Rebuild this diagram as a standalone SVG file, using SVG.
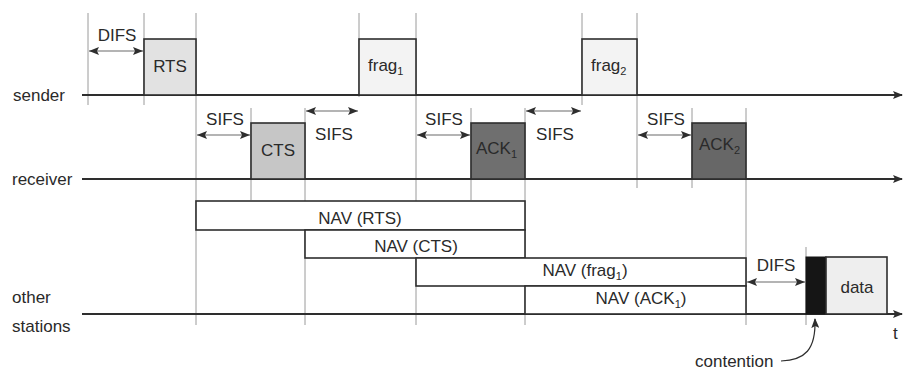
<svg xmlns="http://www.w3.org/2000/svg" width="904" height="373" viewBox="0 0 904 373">
<style>
text{font-family:"Liberation Sans",Arial,sans-serif;font-size:17px;fill:#2a2a2a}
.m{text-anchor:middle}
.sub{font-size:11px}
.axis{stroke:#2e2e2e;stroke-width:2;fill:none}
.grid{stroke:#9a9a9a;stroke-width:1;fill:none}
.dim{stroke:#6a6a6a;stroke-width:1.2;fill:none;marker-start:url(#ah);marker-end:url(#ah)}
.box{stroke:#2e2e2e;stroke-width:1.6}
.nav{fill:#fff;stroke:#2e2e2e;stroke-width:1.6}
</style>
<defs>
<marker id="ah" viewBox="0 0 10 8" refX="10" refY="4" markerWidth="10" markerHeight="8" markerUnits="userSpaceOnUse" orient="auto-start-reverse">
<path d="M0,0 L10,4 L0,8 L2,4 Z" fill="#2e2e2e"/>
</marker>
<marker id="ax" viewBox="0 0 10 8" refX="9" refY="4" markerWidth="10" markerHeight="8" markerUnits="userSpaceOnUse" orient="auto">
<path d="M0,0 L10,4 L0,8 L2,4 Z" fill="#2e2e2e"/>
</marker>
</defs>
<rect width="904" height="373" fill="#fff"/>

<g id="grid">
<line class="grid" x1="88" y1="13" x2="88" y2="105"/>
<line class="grid" x1="144" y1="13" x2="144" y2="105"/>
<line class="grid" x1="196" y1="13" x2="196" y2="325"/>
<line class="grid" x1="251" y1="108" x2="251" y2="200"/>
<line class="grid" x1="305" y1="108" x2="305" y2="325"/>
<line class="grid" x1="359" y1="13" x2="359" y2="97"/>
<line class="grid" x1="416" y1="13" x2="416" y2="325"/>
<line class="grid" x1="471" y1="108" x2="471" y2="200"/>
<line class="grid" x1="525" y1="108" x2="525" y2="325"/>
<line class="grid" x1="582" y1="13" x2="582" y2="105"/>
<line class="grid" x1="637" y1="13" x2="637" y2="188"/>
<line class="grid" x1="692" y1="108" x2="692" y2="188"/>
<line class="grid" x1="746" y1="108" x2="746" y2="325"/>
<line class="grid" x1="806" y1="247" x2="806" y2="325"/>
</g>

<g id="axes">
<line class="axis" x1="82" y1="95" x2="902" y2="95" marker-end="url(#ax)"/>
<line class="axis" x1="82" y1="179" x2="902" y2="179" marker-end="url(#ax)"/>
<line class="axis" x1="82" y1="314" x2="902" y2="314" marker-end="url(#ax)"/>
<text x="13" y="101">sender</text>
<text x="12" y="185">receiver</text>
<text x="12" y="303">other</text>
<text x="12" y="332">stations</text>
<text x="893" y="339">t</text>
</g>

<g id="rts"><rect class="box" x="144" y="39" width="52" height="56" fill="#e2e2e2"/><text class="m" x="170" y="72">RTS</text></g>
<g id="cts"><rect class="box" x="251" y="123" width="54" height="56" fill="#c6c6c6"/><text class="m" x="278" y="156">CTS</text></g>
<g id="frag1"><rect class="box" x="359" y="39" width="57" height="56" fill="#f3f3f3"/><text x="368" y="71">frag<tspan class="sub" dy="4">1</tspan></text></g>
<g id="ack1"><rect class="box" x="471" y="123" width="54" height="56" fill="#6f6f6f"/><text x="476" y="154">ACK<tspan class="sub" dy="4">1</tspan></text></g>
<g id="frag2"><rect class="box" x="582" y="39" width="55" height="56" fill="#f3f3f3"/><text x="591" y="71">frag<tspan class="sub" dy="4">2</tspan></text></g>
<g id="ack2"><rect class="box" x="692" y="123" width="54" height="56" fill="#676767"/><text x="699" y="150">ACK<tspan class="sub" dy="4">2</tspan></text></g>

<g id="nav-rts"><rect class="nav" x="196" y="201" width="329" height="29"/><text class="m" x="360" y="224">NAV (RTS)</text></g>
<g id="nav-cts"><rect class="nav" x="305" y="230" width="220" height="28"/><text class="m" x="416" y="252">NAV (CTS)</text></g>
<g id="nav-frag1"><rect class="nav" x="416" y="258" width="330" height="28"/><text class="m" x="585" y="276">NAV (frag<tspan class="sub" dy="4">1</tspan><tspan dy="-4">)</tspan></text></g>
<g id="nav-ack1"><rect class="nav" x="525" y="286" width="221" height="28"/><text class="m" x="641" y="304">NAV (ACK<tspan class="sub" dy="4">1</tspan><tspan dy="-4">)</tspan></text></g>

<g id="contention"><rect x="806" y="257" width="20" height="57" fill="#151515" stroke="#151515"/></g>
<g id="data"><rect class="box" x="826" y="257" width="61" height="57" fill="#eeeeee"/><text class="m" x="857" y="293">data</text></g>

<g id="connectors">
<line class="dim" x1="89" y1="51" x2="143" y2="51"/>
<line class="dim" x1="197" y1="135" x2="250" y2="135"/>
<line class="dim" x1="306" y1="111" x2="358" y2="111"/>
<line class="dim" x1="417" y1="135" x2="470" y2="135"/>
<line class="dim" x1="526" y1="111" x2="581" y2="111"/>
<line class="dim" x1="638" y1="135" x2="691" y2="135"/>
<line class="dim" x1="747" y1="282" x2="805" y2="282"/>
<path d="M781,361 C805,360 816,350 815,319" fill="none" stroke="#2e2e2e" stroke-width="1.2" marker-end="url(#ax)"/>
</g>

<g id="labels">
<text class="m" x="117" y="41">DIFS</text>
<text class="m" x="225" y="125">SIFS</text>
<text class="m" x="334" y="140">SIFS</text>
<text class="m" x="444" y="125">SIFS</text>
<text class="m" x="555" y="140">SIFS</text>
<text class="m" x="666" y="125">SIFS</text>
<text class="m" x="776" y="271">DIFS</text>
<text x="695" y="367">contention</text>
</g>
</svg>
